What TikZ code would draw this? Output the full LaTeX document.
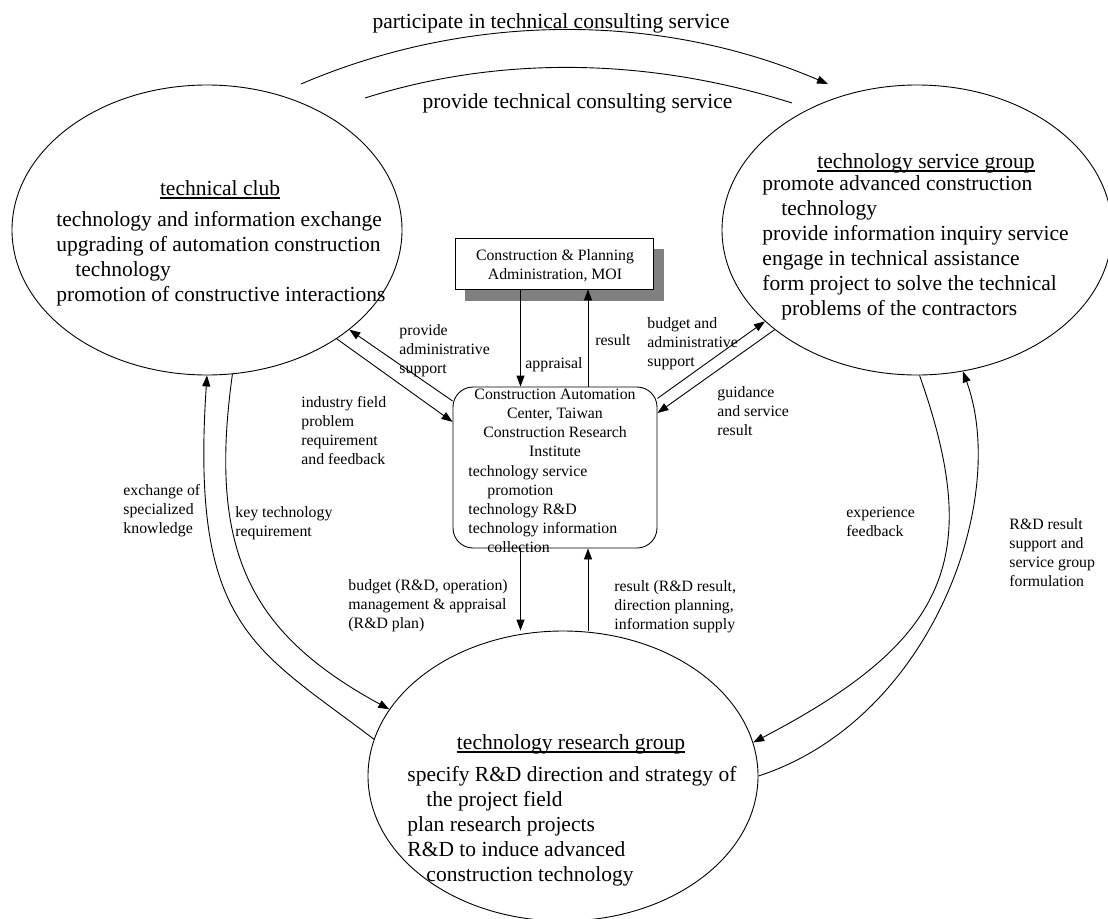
\documentclass[tikz,border=0pt]{standalone}
\usepackage{fontspec}
\setmainfont{Liberation Serif}
\usetikzlibrary{shapes.geometric,arrows.meta,calc}
\definecolor{shadowgray}{RGB}{128,128,128}
\begin{document}
\begin{tikzpicture}[x=1pt,y=-1pt,
  line width=0.9pt,
  arr/.style={-{Triangle[length=11pt,width=8pt]}},
  oval/.style={draw, ellipse, minimum width=390pt, minimum height=290pt, inner sep=0pt},
  big/.style={font=\fontsize{21.5}{25}\selectfont, inner sep=0pt},
  bigblock/.style={font=\fontsize{21.5}{25}\selectfont, inner sep=0pt, align=left, anchor=north west, execute at begin node=\strut},
  small/.style={font=\fontsize{15.8}{19}\selectfont, inner sep=0pt, align=left, anchor=north west, execute at begin node=\strut},
  uline/.style={line width=1.1pt}
]
\path[use as bounding box, fill=white] (0,0) rectangle (1108,918);

% ellipses
\node[oval] (club) at (207,230) {};
\node[oval] (svc) at (917,230) {};
\node[oval] (res) at (563,776) {};

% boxes
\node[fill=shadowgray, minimum width=199pt, minimum height=52pt, inner sep=0pt] (shadow) at (564.5,275) {};
\node[draw, fill=white, minimum width=198pt, minimum height=51pt, inner sep=0pt] (cpa) at (554,263.5) {};
\node[draw, rounded corners=20pt, minimum width=204pt, minimum height=161pt, inner sep=0pt] (cac) at (555,467.5) {};

% ellipse texts
\node[big, anchor=base] (hclub) at (220,195) {technical club};
\draw[uline] ([yshift=-3pt]hclub.base west) -- ([yshift=-3pt]hclub.base east);
\node[bigblock] (bclub) at (56,210.5) {technology and information exchange\\upgrading of automation construction\\ \hspace*{19pt}technology\\promotion of constructive interactions};

\node[big, anchor=base] (hsvc) at (926,168) {technology service group};
\draw[uline] ([yshift=-3pt]hsvc.base west) -- ([yshift=-3pt]hsvc.base east);
\node[bigblock] (bsvc) at (762,175.2) {promote advanced construction\\ \hspace*{19pt}technology\\provide information inquiry service\\engage in technical assistance\\form project to solve the technical\\ \hspace*{19pt}problems of the contractors};

\node[big, anchor=base] (hres) at (571,749) {technology research group};
\draw[uline] ([yshift=-3pt]hres.base west) -- ([yshift=-3pt]hres.base east);
\node[bigblock] (bres) at (407,765.5) {specify R\&D direction and strategy of\\ \hspace*{19pt}the project field\\plan research projects\\R\&D to induce advanced\\ \hspace*{19pt}construction technology};

% box texts
\node[small, align=center, anchor=north] (tcpa) at (555,249) {Construction \& Planning\\Administration, MOI};
\node[small, align=center, anchor=north] (tcac) at (555,389) {Construction Automation\\Center, Taiwan\\Construction Research\\Institute};
\node[small] (tcac2) at (468,465) {technology service\\ \hspace*{19pt}promotion\\technology R\&D\\technology information\\ \hspace*{19pt}collection};

% top arcs
\coordinate (p1) at (301,84);
\coordinate (p2) at (828,84);
\draw[arr] (p1) .. controls (469,12) and (660,12) .. (p2);
\coordinate (q1) at (365,98);
\coordinate (q2) at (792,103);
\draw (q1) .. controls (504,54) and (653,59) .. (q2);
\node[big, anchor=base] (tpart) at (551,28.5) {participate in technical consulting service};
\node[big, anchor=base] (tprov) at (577.5,108.5) {provide technical consulting service};

% vertical arrows
\coordinate (xa) at (520.5,0);
\coordinate (xb) at (588,0);
\draw[arr] (xa |- cpa.south) -- (xa |- cac.north);
\draw[arr] (xb |- cac.north) -- (xb |- cpa.south);
\draw[arr] (xa |- cac.south) -- (xa |- res.north);
\draw[arr] (xb |- res.north) -- (xb |- cac.south);

% diagonal arrows
\draw[arr] (cac.147.7) -- (club.-35.5);
\draw[arr] (club.-40.7) -- (cac.156.4);
\draw[arr] (cac.34.6) -- (svc.211.8);
\draw[arr] (svc.215.6) -- (cac.28.5);

% side curves
\draw[arr] (res.169.9) .. controls +(-119,-91) and +(-17,253) .. (club.south);
\draw[arr] (club.-80) .. controls +(-25,179) and +(-138,-75.5) .. (res.159);
\draw[arr] (svc.-89) .. controls +(65.5,185) and +(193,-101) .. (res.10.5);
\draw[arr] (res.east) .. controls +(172,-56) and +(47,129) .. (svc.-72);

% labels
\node[small] (lappr) at (525,355) {appraisal};
\node[small] (lres) at (595,332) {result};
\node[small] (lprov) at (399,324) {provide\\administrative\\support};
\node[small] (lbud) at (647,317) {budget and\\administrative\\support};
\node[small] (lind) at (301,396) {industry field\\problem\\requirement\\and feedback};
\node[small] (lguid) at (717,386) {guidance\\and service\\result};
\node[small] (lbrd) at (348,579) {budget (R\&D, operation)\\management \& appraisal\\(R\&D plan)};
\node[small] (lrrd) at (614,580) {result (R\&D result,\\direction planning,\\information supply};
\node[small] (lexc) at (123,484) {exchange of\\specialized\\knowledge};
\node[small] (lkey) at (235,506) {key technology\\requirement};
\node[small] (lexp) at (846,507) {experience\\feedback};
\node[small] (lrds) at (1009,518) {R\&D result\\support and\\service group\\formulation};
\end{tikzpicture}
\end{document}
